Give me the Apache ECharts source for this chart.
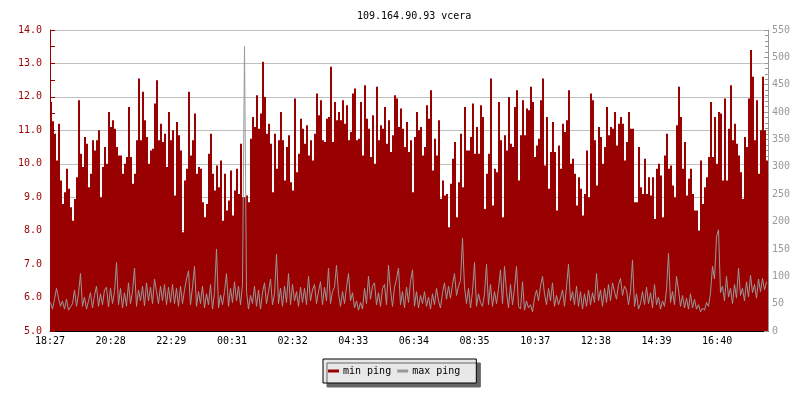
<!DOCTYPE html>
<html>
<head>
<meta charset="utf-8">
<script src="https://cdn.jsdelivr.net/npm/echarts@6/dist/echarts.min.js"></script>
<style>html,body{margin:0;padding:0;background:#fff}#c{width:800px;height:400px}</style>
</head>
<body>
<div id="c"></div>
<script>
// ---- data ----
const title = '109.164.90.93 vcera';
const tickLabels = ['18:27','20:28','22:29','00:31','02:32','04:33','06:34','08:35','10:37','12:38','14:39','16:40'];
const stepMinutes = 4;          // sample spacing
const tickMinutes = 121.3;      // spacing of the time labels
const leftTicks = [5, 14, 1];   // min, max, step (ms)
const rightTicks = [0, 550, 50];

const minPing = [
11.85,11.27,10.9,10.1,11.2,9.5,8.8,9.15,9.85,9.25,
8.7,8.3,8.95,9.6,11.9,10.3,9.9,10.8,10.6,9.3,
9.7,10.7,10.4,10.7,11.0,9.0,9.9,10.5,10.0,11.55,
11.1,11.3,11.05,10.5,10.25,10.25,9.7,10.0,10.2,11.7,
10.2,9.4,9.7,10.7,12.55,10.7,12.15,11.3,10.8,10.0,
10.4,10.45,11.8,12.5,10.7,11.2,10.65,10.9,9.9,11.55,
10.7,11.0,9.05,11.25,10.85,10.4,7.95,9.5,9.85,12.15,
10.25,10.7,
11.5,9.7,9.9,9.85,8.85,8.4,8.8,10.3,10.9,9.7,
9.2,9.95,9.3,10.1,8.3,9.7,8.6,8.9,9.8,8.45,
9.2,9.85,9.1,10.6,9.0,9.0,9.05,8.85,10.75,11.4,
11.1,12.05,11.05,11.5,13.05,12.0,10.9,11.2,10.6,9.15,
10.9,9.85,10.7,11.55,10.7,9.5,10.5,10.85,9.45,9.2,
11.95,9.75,10.3,11.35,11.05,10.6,11.15,10.25,10.7,10.1,
10.9,12.1,11.45,11.9,10.7,10.65,11.35,11.4,12.9,10.65,
11.85,11.3,
11.55,11.3,11.9,11.2,11.75,10.7,10.95,12.1,12.25,10.7,
10.75,11.85,10.25,12.35,11.35,11.05,10.2,11.45,10.0,12.3,
10.7,11.15,11.05,11.7,10.6,11.3,10.35,10.85,12.05,11.95,
11.1,11.65,11.05,10.5,11.25,10.35,10.7,9.15,10.8,11.55,
11.0,11.1,10.25,10.5,11.75,11.35,12.2,9.8,10.75,10.25,
11.3,8.95,9.5,9.05,9.1,8.1,9.4,10.15,10.65,8.4,
9.45,10.9,9.3,11.7,10.4,10.4,10.8,11.8,10.3,11.1,
10.3,11.75,
11.4,8.65,9.7,10.3,12.55,8.75,9.85,9.75,11.85,10.7,
8.4,10.85,10.4,12.0,10.6,10.5,11.7,12.2,9.5,10.85,
11.9,10.85,11.65,11.6,12.3,11.85,10.2,10.55,10.75,11.9,
12.55,9.95,11.4,9.25,10.35,11.25,10.35,8.6,10.55,9.85,
11.2,10.95,11.3,12.2,10.0,10.15,9.7,8.75,9.6,9.25,
8.45,9.1,10.4,9.0,12.1,11.9,10.7,9.35,11.1,10.8,
10.0,10.5,11.7,10.85,11.1,11.05,11.55,10.55,11.2,11.4,
11.2,10.1,
10.65,11.55,11.05,11.05,8.85,8.85,10.5,9.3,9.1,10.15,
9.1,9.6,9.05,9.6,8.35,9.85,10.0,9.65,8.4,10.25,
10.9,9.85,9.95,9.35,9.0,11.15,12.3,11.4,9.85,10.65,
9.05,9.55,9.85,9.1,8.6,8.6,8.0,10.1,8.8,9.3,
9.6,10.2,11.85,10.2,11.4,10.0,11.55,11.5,9.5,11.95,
9.5,11.05,12.35,10.7,11.2,10.6,10.25,9.75,8.95,10.8,
10.5,11.95,13.4,12.6,10.7,11.9,9.7,11.0,12.6,11.0,
10.1
];

const maxPing = [
52,40,58,78,60,45,55,40,58,38,
44,50,75,45,68,105,45,62,40,55,
70,42,65,82,45,68,48,75,80,44,
78,50,72,125,48,78,42,70,45,88,
50,72,115,45,75,55,82,46,88,55,
80,50,95,72,50,82,55,85,48,80,
52,85,50,78,45,82,50,75,95,110,
48,80,
118,45,72,50,82,42,68,48,85,40,
70,150,42,66,48,72,105,45,78,52,
90,55,82,48,85,520,72,40,65,50,
82,45,75,40,70,88,50,72,95,48,
68,140,50,78,45,82,52,105,48,85,
55,72,45,80,52,78,48,100,55,75,
85,50,72,90,48,80,55,115,50,72,
80,120,
68,45,72,50,80,105,55,70,42,55,
38,52,40,78,50,100,58,82,88,48,
70,45,78,85,48,120,75,45,80,95,
115,48,72,42,80,52,90,112,45,72,
42,65,50,72,45,62,40,68,48,78,
55,42,70,88,58,82,60,85,105,65,
82,92,170,80,50,78,42,72,125,45,
68,52,
45,68,122,48,85,45,72,50,78,112,
50,118,72,42,85,48,78,118,45,40,
90,38,55,42,48,35,60,75,55,82,
100,68,48,78,55,88,45,65,48,60,
75,45,80,122,55,72,48,82,45,72,
40,68,45,75,48,70,52,105,55,75,
45,78,52,85,55,88,72,58,85,96,
65,82,
75,48,72,130,45,68,40,50,72,48,
80,50,70,42,85,48,62,40,55,45,
75,142,52,72,48,100,75,45,65,42,
60,40,68,42,58,40,48,35,42,38,
52,45,70,118,95,172,185,70,82,55,
100,62,78,50,85,60,115,65,78,55,
90,62,102,70,85,60,95,72,96,75,
90
];

// ---- chart ----
const font = 'DejaVu Sans Mono';
const red = '#990000';
const gray = '#999999';
// bars centred in their sample slot; the line steps at the slot's start
const minData = minPing.map((v, i) => [i * stepMinutes + stepMinutes / 2, v]);
const maxData = maxPing.map((v, i) => [i * stepMinutes + 1, v]);
const xMax = minPing.length * stepMinutes;

const chart = echarts.init(document.getElementById('c'), null, {renderer: 'canvas'});
chart.setOption({
  animation: false,
  backgroundColor: '#ffffff',
  textStyle: {fontFamily: font},
  title: {
    text: title, left: 352, top: 6,
    textStyle: {fontFamily: font, fontSize: 10, fontWeight: 'normal', color: '#000'}
  },
  legend: {
    left: 323, top: 359,
    padding: [7, 16, 7, 5],
    itemGap: 6, itemWidth: 11, itemHeight: 3,
    selectedMode: false,
    backgroundColor: '#e8e8e8',
    borderColor: '#000', borderWidth: 1, borderRadius: 0,
    shadowColor: '#666', shadowOffsetX: 4, shadowOffsetY: 4, shadowBlur: 0,
    textStyle: {fontFamily: font, fontSize: 10, color: '#000', padding: [0, 0, 0, -1]},
    data: [{name: 'min ping', icon: 'rect'}, {name: 'max ping', icon: 'rect'}]
  },
  grid: {left: 50, right: 32, top: 30, bottom: 69, containLabel: false},
  xAxis: {
    type: 'value', min: 0, max: xMax, interval: tickMinutes,
    axisLine: {show: true, lineStyle: {color: '#000', width: 1}},
    axisTick: {show: true, inside: true, length: 5, lineStyle: {color: '#000'}},
    splitLine: {show: false},
    axisLabel: {
      color: '#000', fontFamily: font, fontSize: 10, margin: 5,
      showMaxLabel: false,
      formatter: v => tickLabels[Math.round(v / tickMinutes)] || ''
    }
  },
  yAxis: [{
    type: 'value', min: leftTicks[0], max: leftTicks[1], interval: leftTicks[2],
    position: 'left',
    axisLine: {show: true, lineStyle: {color: red}},
    axisTick: {show: true, inside: true, length: 5, lineStyle: {color: red}},
    minorTick: {show: true, splitNumber: 2, length: 5, lineStyle: {color: red}},
    splitLine: {show: true, lineStyle: {color: '#c0c0c0', width: 1}},
    axisLabel: {color: red, fontFamily: font, fontSize: 10, margin: 8, formatter: v => v.toFixed(1)}
  }, {
    type: 'value', min: rightTicks[0], max: rightTicks[1], interval: rightTicks[2],
    position: 'right',
    axisLine: {show: true, lineStyle: {color: gray}},
    axisTick: {show: true, inside: true, length: 4, lineStyle: {color: gray}},
    minorTick: {show: true, splitNumber: 5, length: 3, lineStyle: {color: gray}},
    splitLine: {show: false},
    axisLabel: {color: gray, fontFamily: font, fontSize: 10, margin: 4}
  }],
  series: [{
    name: 'min ping', type: 'bar', yAxisIndex: 0, data: minData,
    barWidth: 2, barGap: '-100%', color: red,
    itemStyle: {color: red},
    z: 2
  }, {
    name: 'max ping', type: 'line', yAxisIndex: 1, data: maxData,
    step: 'end', symbol: 'none', color: gray,
    lineStyle: {color: gray, width: 1},
    z: 3
  }]
});
</script>
</body>
</html>
